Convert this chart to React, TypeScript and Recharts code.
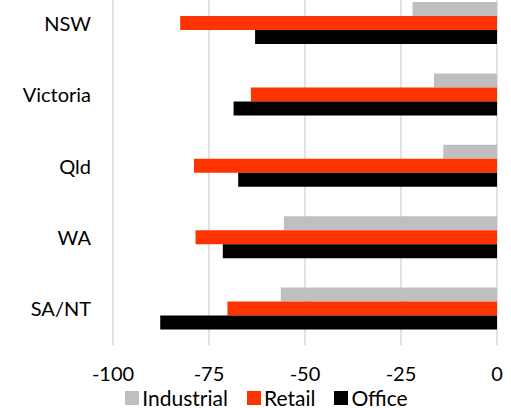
import { BarChart, Bar, XAxis, YAxis, CartesianGrid } from 'recharts'

const regions = ['NSW', 'Victoria', 'Qld', 'WA', 'SA/NT']
const industrial = [-22, -16.4, -14, -55.5, -56.3]
const retail = [-82.5, -64.1, -78.9, -78.5, -70.2]
const office = [-63, -68.6, -67.4, -71.4, -87.7]
const xTicks = [-100, -75, -50, -25, 0]

const series = [
  { key: 'industrial', name: 'Industrial', color: '#bfbfbf' },
  { key: 'retail', name: 'Retail', color: '#ff3300' },
  { key: 'office', name: 'Office', color: '#000000' },
]

const data = regions.map((region, i) => ({
  region,
  industrial: industrial[i],
  retail: retail[i],
  office: office[i],
}))

const FONT = 'Lato, "Open Sans", sans-serif'

// legend sits below the axis labels, drawn outside the svg so it doesn't squeeze the plot
function ChartLegend() {
  return (
    <div
      style={{
        position: 'absolute', left: 0, top: 388, width: 511, height: 20,
        display: 'flex', justifyContent: 'center', gap: 19, paddingLeft: 22, boxSizing: 'border-box',
        fontFamily: FONT, fontSize: 21, lineHeight: '20px', color: '#000',
      }}
    >
      {series.map(s => (
        <div key={s.key} style={{ display: 'flex', alignItems: 'center' }}>
          <span style={{ width: 14, height: 14, background: s.color, display: 'inline-block', marginRight: 3 }} />
          <span>{s.name}</span>
        </div>
      ))}
    </div>
  )
}

export default function App() {
  return (
    <div style={{ position: 'absolute', left: 0, top: 0, width: 511, height: 408, overflow: 'hidden' }}>
      <div style={{ position: 'absolute', left: 0, top: -20 }}>
        <BarChart
          width={511}
          height={440}
          data={data}
          layout="vertical"
          barCategoryGap={14}
          barGap={0}
          margin={{ top: 8, right: 14, bottom: 45, left: 0 }}
        >
          <CartesianGrid horizontal={false} stroke="#d9d9d9" strokeWidth={1.5} />
          <XAxis
            type="number"
            domain={[-100, 0]}
            ticks={xTicks}
            height={30}
            axisLine={false}
            tickLine={false}
            tickSize={0}
            tickMargin={22}
            tick={{ fill: '#000', fontSize: 20, fontFamily: FONT }}
          />
          <YAxis
            type="category"
            dataKey="region"
            width={113}
            axisLine={false}
            tickLine={false}
            tickSize={0}
            tickMargin={22}
            tick={{ fill: '#000', fontSize: 20, fontFamily: FONT }}
          />
          {series.map(s => (
            <Bar key={s.key} dataKey={s.key} name={s.name} fill={s.color} isAnimationActive={false} />
          ))}
        </BarChart>
      </div>
      <ChartLegend />
    </div>
  )
}
